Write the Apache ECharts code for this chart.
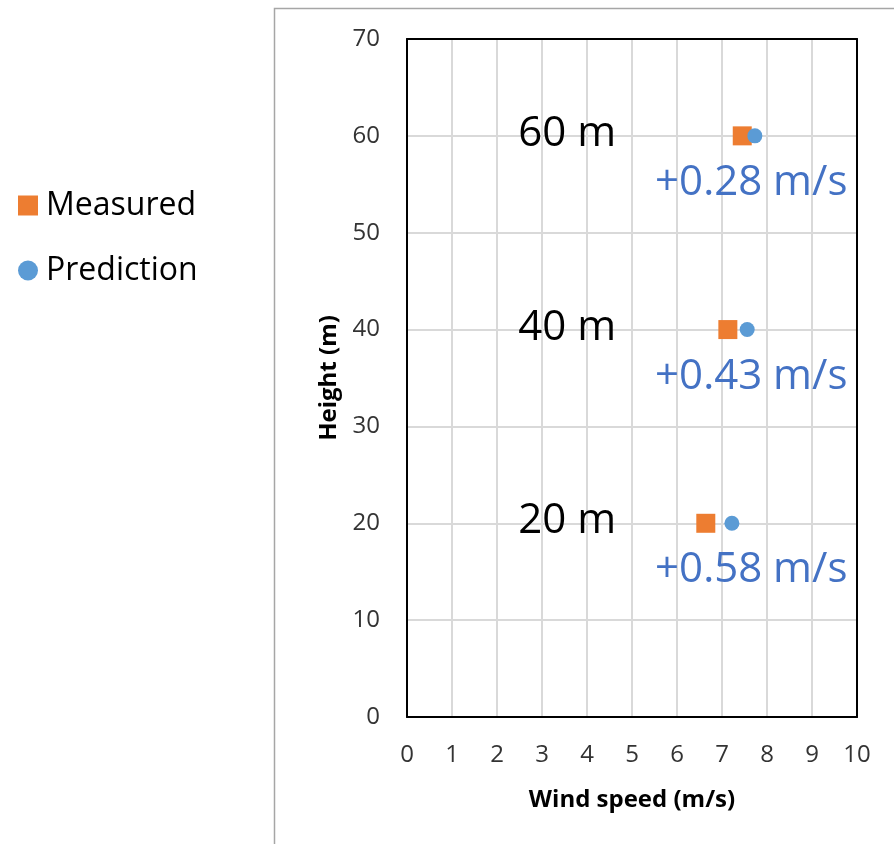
<!DOCTYPE html>
<html>
<head>
<meta charset="utf-8">
<script src="https://cdn.jsdelivr.net/npm/echarts@6/dist/echarts.min.js"></script>
<style>html,body{margin:0;padding:0;background:#fff}#c{width:894px;height:844px}</style>
</head>
<body>
<div id="c"></div>
<script>
const heights = [20, 40, 60];
const measured = [6.64, 7.13, 7.45];
const prediction = [7.22, 7.56, 7.73];
const heightLabels = ['20 m', '40 m', '60 m'];
const diffLabels = ['+0.58 m/s', '+0.43 m/s', '+0.28 m/s'];
const heightLabelX = 3.56;
const diffLabelX = 7.65;
const xTicks = [0,1,2,3,4,5,6,7,8,9,10];
const yTicks = [0,10,20,30,40,50,60,70];

const FONT = '"Open Sans", "Noto Sans", sans-serif';
const chart = echarts.init(document.getElementById('c'));
const borderAxis = {
  axisLine: { show: true, onZero: false, lineStyle: { color: '#000', width: 2 } },
  axisTick: { show: false }, axisLabel: { show: false }, splitLine: { show: false }
};
chart.setOption({
  backgroundColor: '#fff',
  animation: false,
  textStyle: { fontFamily: FONT },
  graphic: [{
    type: 'rect', left: 272, top: 6, silent: true,
    shape: { width: 700, height: 900 },
    style: { fill: 'none', stroke: '#a6a6a6', lineWidth: 1.5 }
  }],
  legend: {
    orient: 'vertical', left: 13, top: 183,
    itemWidth: 20, itemHeight: 20, itemGap: 30,
    textStyle: { fontSize: 32, color: '#000', fontFamily: FONT, lineHeight: 35, padding: [0, 0, 0, 3] },
    data: [{ name: 'Measured', icon: 'rect' }, { name: 'Prediction', icon: 'circle' }]
  },
  grid: { left: 407, right: 37, top: 39, bottom: 127 },
  xAxis: [{
    type: 'value', min: xTicks[0], max: xTicks[xTicks.length - 1], interval: 1,
    name: 'Wind speed (m/s)', nameLocation: 'middle', nameGap: 71,
    nameTextStyle: { fontSize: 24, fontWeight: 'bold', color: '#000', fontFamily: FONT },
    axisLine: { show: true, onZero: false, lineStyle: { color: '#000', width: 2 } },
    axisTick: { show: false },
    axisLabel: { fontSize: 24, color: '#333', margin: 26, fontFamily: FONT },
    splitLine: { show: true, lineStyle: { color: '#d9d9d9', width: 2 } }
  }, Object.assign({ type: 'value', position: 'top', min: 0, max: 10 }, borderAxis)],
  yAxis: [{
    type: 'value', min: yTicks[0], max: yTicks[yTicks.length - 1], interval: 10,
    name: 'Height (m)', nameLocation: 'middle', nameGap: 66,
    nameTextStyle: { fontSize: 24, fontWeight: 'bold', color: '#000', fontFamily: FONT },
    axisLine: { show: true, onZero: false, lineStyle: { color: '#000', width: 2 } },
    axisTick: { show: false },
    axisLabel: { fontSize: 24, color: '#333', margin: 27, fontFamily: FONT },
    splitLine: { show: true, lineStyle: { color: '#d9d9d9', width: 2 } }
  }, Object.assign({ type: 'value', position: 'right', min: 0, max: 70 }, borderAxis)],
  series: [
    {
      name: 'Measured', type: 'scatter', symbol: 'rect', symbolSize: 19,
      itemStyle: { color: '#ED7D31', opacity: 1 }, z: 3,
      data: measured.map((v, i) => [v, heights[i]])
    },
    {
      name: 'Prediction', type: 'scatter', symbol: 'circle', symbolSize: 15,
      itemStyle: { color: '#5B9BD5', opacity: 1 }, z: 4,
      data: prediction.map((v, i) => [v, heights[i]])
    },
    {
      name: 'heightText', type: 'scatter', symbolSize: 0, silent: true, z: 5,
      itemStyle: { opacity: 1 },
      data: heights.map((h, i) => [heightLabelX, h]),
      label: {
        show: true, position: 'inside', offset: [0, -2], opacity: 1,
        formatter: p => heightLabels[p.dataIndex],
        fontSize: 42, color: '#000', fontFamily: FONT
      }
    },
    {
      name: 'diffText', type: 'scatter', symbolSize: 0, silent: true, z: 5,
      itemStyle: { opacity: 1 },
      data: heights.map((h, i) => [diffLabelX, h]),
      label: {
        show: true, position: 'inside', offset: [0, 47], opacity: 1,
        formatter: p => diffLabels[p.dataIndex],
        fontSize: 42, color: '#4472C4', fontFamily: FONT
      }
    }
  ]
});
</script>
</body>
</html>
